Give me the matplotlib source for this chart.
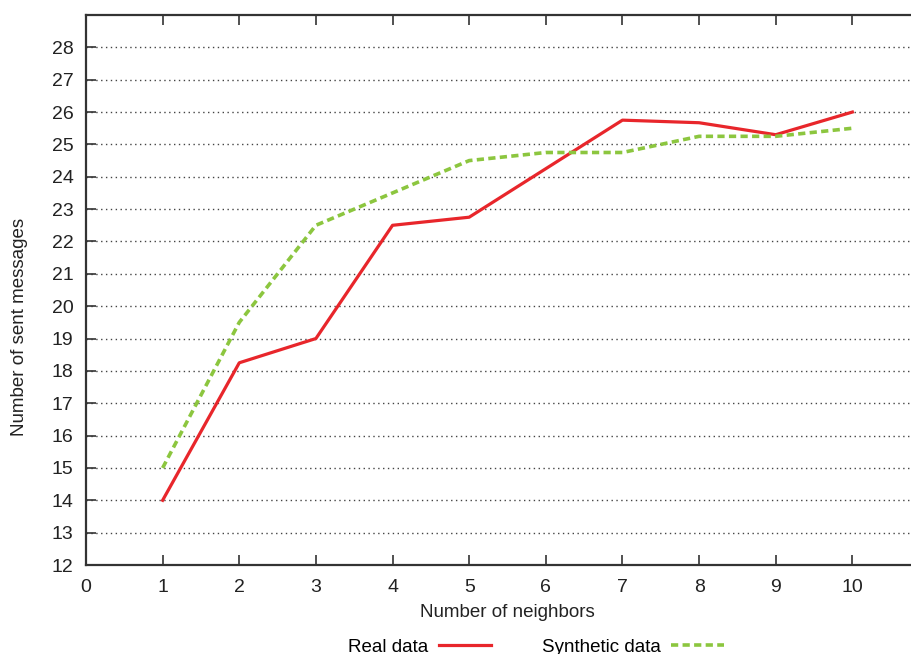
import numpy as np
import matplotlib.pyplot as plt

plt.rcParams['font.family'] = ['Liberation Sans', 'DejaVu Sans']

neighbors = [1, 2, 3, 4, 5, 6, 7, 8, 9, 10]
real_data = [14, 18.25, 19, 22.5, 22.75, 24.25, 25.75, 25.67, 25.3, 26]
synthetic_data = [15, 19.5, 22.5, 23.5, 24.5, 24.75, 24.75, 25.25, 25.25, 25.5]

fig = plt.figure(figsize=(9.12, 6.54), dpi=100)
ax = fig.add_axes([86 / 912, 89 / 654, 843 / 912, 550 / 654])

ax.plot(neighbors, real_data, color='#e8262b', lw=2.3, label='Real data', zorder=3)
ax.plot(neighbors, synthetic_data, color='#8cc63f', lw=2.6, ls=(0, (2, 1.2)),
        label='Synthetic data', zorder=3)

ax.set_xlim(0, 11)
ax.set_ylim(12, 29)
ax.set_xticks(range(0, 11))
ax.set_yticks(range(12, 29))

# dotted horizontal grid, skip the bottom line
for y in range(13, 29):
    ax.axhline(y, color='#444444', lw=1.0, ls=(0, (1, 2.5)), zorder=1)

ax.tick_params(direction='in', length=7, width=1.2, labelsize=14,
               colors='#333333', labelcolor='#222222', top=True)
ax.tick_params(axis='x', pad=10)
ax.tick_params(axis='y', pad=9)
for s in ax.spines.values():
    s.set_color('#333333')
    s.set_linewidth(1.6)

ax.set_xlabel('Number of neighbors', fontsize=13.5, color='#222222', labelpad=6)
ax.set_ylabel('Number of sent messages', fontsize=13.5, color='#222222')
ax.yaxis.set_label_coords(28 / 912, 0.5, transform=fig.transFigure)

ax.legend(loc='lower center', bbox_to_anchor=(536 / 912, -9 / 654),
          bbox_transform=fig.transFigure, ncol=2, frameon=False,
          markerfirst=False, fontsize=13.5, handlelength=2.8,
          columnspacing=2.7, handletextpad=0.55, borderaxespad=0)

fig.savefig('out.png', dpi=100)
